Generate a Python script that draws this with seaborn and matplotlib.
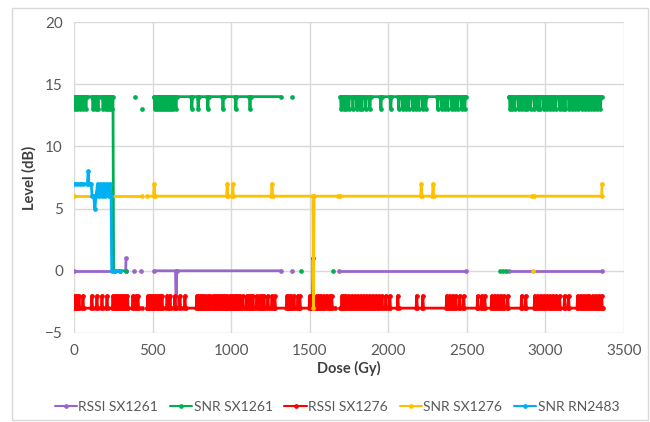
import matplotlib
matplotlib.use("Agg")
import matplotlib.pyplot as plt
import pandas as pd
import seaborn as sns

series_names = ["RSSI SX1261", "SNR SX1261", "RSSI SX1276", "SNR SX1276", "SNR RN2483"]
colors = ["#9966CC", "#00B050", "#FF0000", "#FFC000", "#00B0F0"]

# RSSI SX1261 (dB): runs at 0, one dip, a few stray points
rssi1261_runs = [(0, 293), (510, 1317), (1687, 2495), (2765, 3360)]
rssi1261_ticks = [(650, -3)]
rssi1261_stray = [[(329, 0), (331, 1)], [(382, 0)], [(427, 0)], [(1387, 0)]]

# SNR SX1261: runs at 14, dips to 13
snr1261_runs = [(0, 248), (510, 1317), (1693, 2495), (2768, 3360)]
snr1261_ticks = [6, 19, 38, 57, 76, 121, 140, 153, 185, 204, 216, 229, 240,
                 515, 528, 541, 553, 566, 579, 592, 604, 617, 630, 649, 750, 790, 852, 948, 1030, 1120,
                 1700, 1715, 1730, 1749, 1775, 1800, 1819, 1832, 1857, 1883, 1953, 2016, 2067, 2092,
                 2111, 2130, 2156, 2175, 2194, 2220, 2239, 2315, 2340, 2359, 2378, 2404, 2423, 2442,
                 2467, 2487,
                 2775, 2790, 2805, 2830, 2850, 2870, 2885, 2905, 2930, 2950, 2965, 2990, 3010, 3030,
                 3050, 3065, 3090, 3110, 3125, 3150, 3170, 3190, 3210, 3230, 3250, 3270, 3290, 3310,
                 3330, 3350]
snr1261_drop = [(252, 0), (330, 0)]
snr1261_stray = [[(388, 14)], [(433, 13)], [(1387, 14)], [(1445, 0)], [(1648, 0)],
                 [(2711, 0)], [(2730, 0)], [(2750, 0)]]

# RSSI SX1276: runs at -3, spikes to -2
rssi1276_runs = [(0, 433), (465, 1660), (1690, 3366)]
rssi1276_ticks = [6, 19, 32, 57, 114, 146, 178, 210, 248, 261, 274, 287, 300, 312, 325, 340, 375, 395, 407,
                  470, 483, 496, 509, 522, 535, 548, 560, 592, 611, 642, 674, 706, 782, 795, 808, 821,
                  834, 852, 865, 884, 897, 910, 923, 936, 950, 963, 973, 992, 1005, 1018, 1031, 1044,
                  1057, 1075, 1100, 1113, 1126, 1139, 1164, 1183, 1196, 1209, 1234, 1260, 1278, 1355,
                  1368, 1381, 1400, 1425, 1437, 1500, 1513, 1545, 1558, 1571, 1590, 1610, 1628, 1640,
                  1705, 1718, 1731, 1750, 1769, 1788, 1807, 1826, 1845, 1864, 1883, 1902, 1921, 1940,
                  1960, 1985, 2010, 2061, 2181, 2220, 2372, 2391, 2410, 2430, 2455, 2480, 2569, 2595,
                  2614, 2658, 2678, 2697, 2716, 2735, 2760, 2849, 2875, 2932, 2951, 2970, 2990, 3010,
                  3030, 3050, 3070, 3090, 3122, 3147, 3205, 3224, 3243, 3262, 3280, 3300, 3320, 3340,
                  3358]
rssi1276_high = (1522, 1)

# SNR SX1276: runs at 6, spikes to 7
snr1276_runs = [(0, 433), (465, 1680), (1693, 2912), (2928, 3358)]
snr1276_ticks = [(510, 7), (975, 7), (1010, 7), (1260, 7), (1524, -3), (2210, 7), (2285, 7)]
snr1276_end = [(3360, 7)]
snr1276_stray = [[(2920, 0)]]

# SNR RN2483
rn2483_dose = [0, 20, 40, 60, 85, 90, 95, 110, 115, 125, 133, 140, 150, 160, 170, 180, 190,
               200, 210, 220, 230, 236, 240, 260, 290]
rn2483_level = [7, 7, 7, 7, 7, 8, 7, 7, 6, 6, 5, 6, 7, 6, 7, 6, 7, 6, 7, 6, 7, 6, 0, 0, 0]


def run(start, end, base, ticks, tail=()):
    pts = [(start, base)]
    for d, v in ticks:
        if start < d < end:
            pts += [(d - 4, base), (d, v), (d + 4, base)]
    pts.append((end, base))
    pts += list(tail)
    return pts


pieces = {name: [] for name in series_names}
for s, e in rssi1261_runs:
    pieces["RSSI SX1261"].append(run(s, e, 0, rssi1261_ticks))
pieces["RSSI SX1261"] += rssi1261_stray

for i, (s, e) in enumerate(snr1261_runs):
    tail = snr1261_drop if i == 0 else ()
    pieces["SNR SX1261"].append(run(s, e, 14, [(d, 13) for d in snr1261_ticks], tail))
pieces["SNR SX1261"] += snr1261_stray

for s, e in rssi1276_runs:
    pieces["RSSI SX1276"].append(run(s, e, -3, [(d, -2) for d in rssi1276_ticks] + [rssi1276_high]))

for i, (s, e) in enumerate(snr1276_runs):
    tail = snr1276_end if i == len(snr1276_runs) - 1 else ()
    pieces["SNR SX1276"].append(run(s, e, 6, snr1276_ticks, tail))
pieces["SNR SX1276"] += snr1276_stray

pieces["SNR RN2483"].append(list(zip(rn2483_dose, rn2483_level)))

rows = []
for name in series_names:
    for k, seg in enumerate(pieces[name]):
        seg = sorted(seg, key=lambda p: p[0])
        for d, v in seg:
            rows.append({"dose": d, "level": v, "series": name, "seg": k})
df = pd.DataFrame(rows)

sns.set_style("white")
plt.rcParams["font.family"] = ["Lato", "DejaVu Sans"]

fig = plt.figure(figsize=(6.5, 4.22), dpi=100)
ax = fig.add_axes([74 / 650, 1 - 333 / 422, 550 / 650, 311 / 422])

sns.lineplot(data=df, x="dose", y="level", hue="series", hue_order=series_names,
             palette=colors, units="seg", estimator=None, sort=False,
             marker="o", markersize=3.4, markeredgewidth=0, linewidth=2.0, ax=ax)

ax.set_xlim(0, 3500)
ax.set_ylim(-5, 20)
ax.set_xticks(range(0, 3501, 500))
ax.set_yticks(range(-5, 21, 5))
ax.grid(True, color="#D9D9D9", linewidth=1)
ax.set_axisbelow(True)
for sp in ax.spines.values():
    sp.set_visible(False)
ax.tick_params(length=0, labelsize=11, colors="#595959", pad=8)
ax.set_xlabel("Dose (Gy)", fontsize=10.5, fontweight="bold", color="#404040", labelpad=2)
ax.set_ylabel("Level (dB)", fontsize=10.5, fontweight="bold", color="#404040", labelpad=6)

sns.move_legend(ax, "center", bbox_to_anchor=(0.478, -0.238), ncol=5, frameon=False,
                title=None, fontsize=10, handlelength=1.6, columnspacing=0.85,
                handletextpad=0.1)
for t in ax.get_legend().get_texts():
    t.set_color("#595959")
for h in ax.get_legend().legend_handles:
    h.set_linewidth(1.5)

fig.patches.append(plt.Rectangle((12 / 650, 2 / 422), 636 / 650, 412 / 422,
                                 transform=fig.transFigure, fill=False,
                                 edgecolor="#D9D9D9", linewidth=1))

fig.savefig("out.png", dpi=100)
